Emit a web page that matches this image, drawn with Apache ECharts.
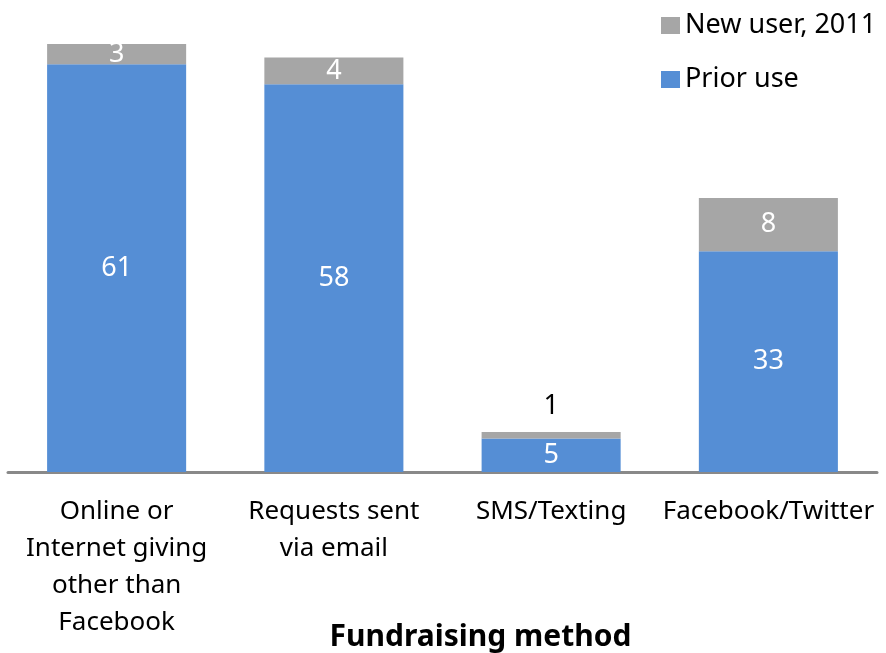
<!DOCTYPE html>
<html>
<head>
<meta charset="utf-8">
<script src="https://cdn.jsdelivr.net/npm/echarts@6/dist/echarts.min.js"></script>
<style>
html, body { margin: 0; padding: 0; background: #fff; }
#column { width: 886px; height: 653px; }
</style>
</head>
<body>
<div id="column"></div>
<script>
// 数据
var categories = ['Online or\nInternet giving\nother than\nFacebook', 'Requests sent\nvia email', 'SMS/Texting', 'Facebook/Twitter'];
var priorUse = [61, 58, 5, 33];
var newUser = [3, 4, 1, 8];
var seriesNames = ['Prior use', 'New user, 2011'];

var chart = echarts.init(document.getElementById('column'));

var fontFamily = '"Noto Sans", sans-serif';

// 小的灰色段, 标签放在柱子上方
var newUserData = [];
for (var i = 0; i < newUser.length; i++) {
    if (newUser[i] < 2) {
        newUserData.push({
            value: newUser[i],
            label: { position: 'top', color: '#000', distance: 12 }
        });
    } else {
        newUserData.push(newUser[i]);
    }
}

var option = {
    animation: false,
    textStyle: { fontFamily: fontFamily },
    grid: { left: 8, right: 9, top: 4, bottom: 181, containLabel: false, outerBoundsMode: 'none' },
    legend: {
        orient: 'vertical',
        left: 656,
        top: 7,
        itemWidth: 19,
        itemHeight: 17,
        itemGap: 27,
        data: [seriesNames[1], seriesNames[0]],
        textStyle: { fontSize: 27, color: '#000', fontFamily: fontFamily, padding: [0, 0, 0, 0] },
        icon: 'rect'
    },
    xAxis: {
        type: 'category',
        data: categories,
        name: 'Fundraising method',
        nameLocation: 'middle',
        nameGap: 150,
        nameMoveOverlap: false,
        nameTextStyle: { fontSize: 30, fontWeight: 'bold', color: '#000', fontFamily: fontFamily, padding: [0, 0, 0, 76] },
        axisLine: { lineStyle: { color: '#898989', width: 3 } },
        axisTick: { show: false },
        axisLabel: {
            fontSize: 26,
            color: '#000',
            margin: 21,
            lineHeight: 37,
            interval: 0,
            fontFamily: fontFamily
        }
    },
    yAxis: {
        type: 'value',
        min: 0,
        max: 70,
        show: false,
        splitLine: { show: false }
    },
    series: [
        {
            name: seriesNames[0],
            type: 'bar',
            stack: 'total',
            barWidth: '64%',
            itemStyle: { color: '#558ED5' },
            label: { show: true, position: 'inside', color: '#fff', fontSize: 27, fontFamily: fontFamily },
            data: priorUse
        },
        {
            name: seriesNames[1],
            type: 'bar',
            stack: 'total',
            barWidth: '64%',
            itemStyle: { color: '#A6A6A6' },
            label: { show: true, position: 'inside', color: '#fff', fontSize: 27, fontFamily: fontFamily },
            data: newUserData
        }
    ]
};

chart.setOption(option);
</script>
</body>
</html>
